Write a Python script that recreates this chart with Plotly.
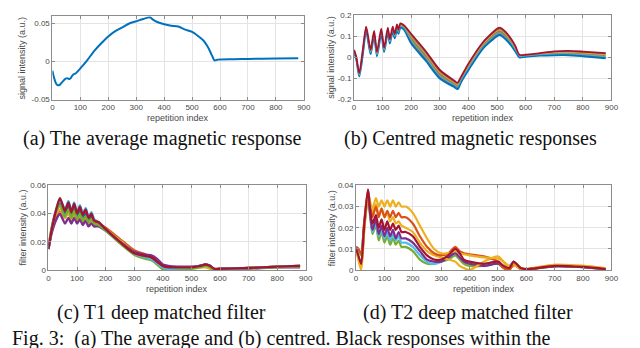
import plotly.graph_objects as go

W, H = 640, 348

def px(x):
    return x / W

def py(y):
    return 1 - y / H

# ---------------- data ----------------
x_ticks = [0, 100, 200, 300, 400, 500, 600, 700, 800, 900]

# (a) average magnetic response
xa = [0, 5, 10, 15, 20, 25, 30, 35, 40, 45, 50, 55, 60, 65, 70, 75, 80, 85, 90, 100,
      125, 150, 175, 200, 225, 250, 275, 300, 325, 350, 360, 375, 400, 425, 450, 475,
      500, 520, 540, 555, 565, 575, 580, 590, 650, 700, 800, 880]
ya = [-0.012, -0.020, -0.026, -0.030, -0.031, -0.031, -0.029, -0.027, -0.025, -0.023,
      -0.022, -0.022, -0.023, -0.022, -0.019, -0.017, -0.016, -0.015, -0.013, -0.009,
      0.002, 0.014, 0.024, 0.033, 0.040, 0.045, 0.050, 0.053, 0.056, 0.058, 0.055,
      0.052, 0.049, 0.047, 0.046, 0.042, 0.039, 0.034, 0.028, 0.020, 0.013, 0.005,
      0.0015, 0.0025, 0.003, 0.0035, 0.004, 0.0045]
ya_ticks = [-0.05, 0, 0.05]
ya_text = ["-0.05", "0", "0.05"]

# (b) centred magnetic responses (band of responses)
xb = [0, 8, 18, 30, 42, 50, 58, 70, 80, 95, 105, 118, 125, 135, 142, 150, 155, 162,
      175, 200, 250, 300, 350, 362, 375, 400, 450, 500, 510, 530, 550, 565, 578, 600,
      650, 700, 750, 800, 880]
b_upper = [0.035, 0.0, -0.075, 0.03, 0.145, 0.09, 0.035, 0.125, 0.025, 0.135, 0.045,
           0.14, 0.085, 0.145, 0.11, 0.155, 0.13, 0.16, 0.15, 0.11, 0.03, -0.06, -0.11,
           -0.12, -0.09, -0.03, 0.07, 0.135, 0.14, 0.12, 0.085, 0.05, 0.012, 0.012,
           0.02, 0.028, 0.03, 0.027, 0.02]
b_mid_a = [0.032, -0.003, -0.08, 0.023, 0.14, 0.083, 0.028, 0.118, 0.018, 0.128, 0.038,
           0.133, 0.078, 0.138, 0.103, 0.148, 0.123, 0.153, 0.143, 0.095, 0.015, -0.073,
           -0.12, -0.13, -0.098, -0.04, 0.06, 0.124, 0.128, 0.108, 0.075, 0.04, 0.008,
           0.009, 0.016, 0.022, 0.023, 0.02, 0.012]
b_mid_b = [0.028, -0.007, -0.085, 0.017, 0.135, 0.077, 0.022, 0.112, 0.012, 0.122, 0.032,
           0.127, 0.072, 0.132, 0.097, 0.142, 0.117, 0.147, 0.137, 0.08, 0.0, -0.087,
           -0.13, -0.14, -0.107, -0.05, 0.05, 0.112, 0.116, 0.096, 0.065, 0.032, 0.004,
           0.006, 0.012, 0.016, 0.017, 0.013, 0.004]
b_lower = [0.025, -0.01, -0.09, 0.01, 0.13, 0.07, 0.015, 0.105, 0.005, 0.115, 0.025,
           0.12, 0.065, 0.125, 0.09, 0.135, 0.11, 0.14, 0.13, 0.065, -0.015, -0.1, -0.14,
           -0.15, -0.115, -0.06, 0.04, 0.1, 0.105, 0.085, 0.055, 0.025, 0.0, 0.003,
           0.008, 0.01, 0.01, 0.005, -0.005]
yb_ticks = [-0.2, -0.1, 0, 0.1, 0.2]
yb_text = ["-0.2", "-0.1", "0", "0.1", "0.2"]

# (c) T1 deep matched filters
xc = [0, 10, 20, 30, 40, 50, 58, 70, 80, 90, 100, 110, 120, 130, 140, 150, 160, 175,
      200, 250, 300, 340, 360, 380, 400, 420, 450, 500, 530, 550, 565, 580, 600, 700,
      800, 880]
c_blue = [0.015, 0.027, 0.036, 0.043, 0.047, 0.043, 0.040, 0.045, 0.039, 0.044, 0.038,
          0.042, 0.037, 0.040, 0.035, 0.038, 0.034, 0.033, 0.029, 0.020, 0.012, 0.009,
          0.008, 0.005, 0.002, 0.001, 0.0015, 0.002, 0.003, 0.004, 0.003, 0.0005, 0.001,
          0.0015, 0.0025, 0.003]
c_orange = [0.017, 0.028, 0.036, 0.040, 0.042, 0.040, 0.037, 0.041, 0.036, 0.040, 0.036,
            0.039, 0.035, 0.038, 0.034, 0.036, 0.034, 0.033, 0.030, 0.022, 0.014, 0.011,
            0.009, 0.006, 0.003, 0.002, 0.002, 0.002, 0.003, 0.0035, 0.002, 0.0005,
            0.001, 0.0015, 0.0025, 0.003]
c_yellow = [0.017, 0.029, 0.037, 0.041, 0.043, 0.040, 0.037, 0.041, 0.036, 0.040, 0.035,
            0.038, 0.034, 0.037, 0.033, 0.035, 0.032, 0.032, 0.029, 0.021, 0.013, 0.010,
            0.008, 0.005, 0.002, 0.001, 0.0015, 0.0015, 0.002, 0.002, 0.001, 0.0,
            0.0008, 0.0015, 0.0025, 0.003]
c_purple = [0.015, 0.025, 0.032, 0.037, 0.040, 0.036, 0.033, 0.037, 0.033, 0.037, 0.033,
            0.036, 0.032, 0.035, 0.031, 0.033, 0.031, 0.031, 0.028, 0.020, 0.013, 0.011,
            0.0105, 0.008, 0.004, 0.003, 0.0025, 0.0025, 0.003, 0.004, 0.003, 0.0005,
            0.0008, 0.0012, 0.002, 0.002]
c_green = [0.016, 0.028, 0.038, 0.043, 0.046, 0.041, 0.038, 0.043, 0.037, 0.042, 0.036,
           0.040, 0.035, 0.038, 0.034, 0.036, 0.033, 0.032, 0.028, 0.019, 0.011, 0.008,
           0.007, 0.004, 0.0005, 0.0, 0.0005, 0.001, 0.002, 0.003, 0.002, 0.0, 0.0008,
           0.0012, 0.002, 0.0025]
c_cyan = [0.015, 0.027, 0.037, 0.045, 0.050, 0.046, 0.043, 0.049, 0.042, 0.048, 0.041,
          0.046, 0.040, 0.044, 0.038, 0.041, 0.036, 0.034, 0.029, 0.020, 0.012, 0.009,
          0.008, 0.005, 0.002, 0.001, 0.0015, 0.002, 0.003, 0.004, 0.003, 0.0005, 0.001,
          0.0015, 0.0025, 0.003]
c_red = [0.015, 0.027, 0.037, 0.045, 0.051, 0.046, 0.042, 0.048, 0.041, 0.047, 0.040,
         0.045, 0.039, 0.043, 0.037, 0.040, 0.035, 0.034, 0.029, 0.020, 0.012, 0.010,
         0.009, 0.006, 0.003, 0.002, 0.002, 0.002, 0.003, 0.004, 0.003, 0.001, 0.001,
         0.0015, 0.0025, 0.003]
yc_ticks = [0, 0.02, 0.04, 0.06]
yc_text = ["0", "0.02", "0.04", "0.06"]

# (d) T2 deep matched filters
xd = [0, 8, 18, 28, 42, 50, 58, 70, 80, 90, 100, 110, 120, 130, 140, 150, 160, 175,
      200, 225, 250, 275, 300, 325, 350, 365, 380, 400, 450, 500, 520, 540, 555, 565,
      580, 600, 700, 800, 880]
d_green = [0.011, 0.010, 0.007, 0.020, 0.033, 0.025, 0.017, 0.021, 0.014, 0.018, 0.013,
           0.016, 0.012, 0.015, 0.012, 0.014, 0.011, 0.011, 0.009, 0.005, 0.003, 0.003,
           0.004, 0.005, 0.007, 0.005, 0.003, 0.002, 0.002, 0.003, 0.001, 0.001, 0.003,
           0.002, 0.0005, 0.0003, 0.0018, 0.0014, 0.0005]
d_cyan = [0.011, 0.010, 0.008, 0.021, 0.034, 0.026, 0.018, 0.022, 0.016, 0.019, 0.015,
          0.018, 0.014, 0.017, 0.014, 0.016, 0.013, 0.013, 0.011, 0.007, 0.004, 0.003,
          0.004, 0.006, 0.008, 0.006, 0.004, 0.003, 0.003, 0.004, 0.002, 0.002, 0.004,
          0.003, 0.001, 0.0005, 0.0018, 0.0014, 0.0005]
d_purple = [0.010, 0.006, 0.002, 0.019, 0.037, 0.026, 0.019, 0.024, 0.017, 0.021, 0.016,
            0.020, 0.016, 0.019, 0.015, 0.018, 0.015, 0.015, 0.013, 0.009, 0.005, 0.004,
            0.004, 0.006, 0.008, 0.006, 0.004, 0.003, 0.002, 0.003, 0.0015, 0.0005,
            0.003, 0.002, 0.0005, 0.0003, 0.0018, 0.0014, 0.0005]
d_yellow2 = [0.010, 0.005, 0.0, 0.017, 0.035, 0.031, 0.027, 0.031, 0.026, 0.029, 0.025,
             0.027, 0.023, 0.025, 0.022, 0.023, 0.021, 0.020, 0.018, 0.013, 0.009, 0.007,
             0.006, 0.005, 0.004, 0.002, 0.001, 0.0, 0.004, 0.0065, 0.004, 0.0005, 0.002,
             0.002, 0.0005, 0.0005, 0.0025, 0.002, 0.0008]
d_orange = [0.011, 0.010, 0.008, 0.022, 0.038, 0.030, 0.025, 0.030, 0.025, 0.029, 0.025,
            0.028, 0.025, 0.028, 0.025, 0.027, 0.025, 0.025, 0.022, 0.016, 0.011, 0.008,
            0.007, 0.008, 0.011, 0.009, 0.008, 0.0075, 0.0065, 0.004, 0.001, 0.0, 0.003,
            0.003, 0.001, 0.0005, 0.002, 0.0015, 0.0005]
d_yellow = [0.010, 0.006, 0.001, 0.018, 0.036, 0.032, 0.029, 0.034, 0.030, 0.033, 0.030,
            0.033, 0.030, 0.033, 0.030, 0.032, 0.030, 0.030, 0.027, 0.021, 0.015, 0.010,
            0.008, 0.008, 0.009, 0.008, 0.0075, 0.007, 0.006, 0.0055, 0.004, 0.002,
            0.003, 0.003, 0.001, 0.0005, 0.0025, 0.002, 0.0008]
d_red = [0.010, 0.007, 0.003, 0.020, 0.038, 0.028, 0.022, 0.026, 0.020, 0.024, 0.019,
         0.023, 0.019, 0.022, 0.019, 0.021, 0.018, 0.018, 0.016, 0.011, 0.007, 0.005,
         0.005, 0.007, 0.010, 0.008, 0.005, 0.004, 0.003, 0.004, 0.002, 0.001, 0.004,
         0.003, 0.001, 0.0005, 0.002, 0.0015, 0.0005]
yd_ticks = [0, 0.01, 0.02, 0.03, 0.04]
yd_text = ["0", "0.01", "0.02", "0.03", "0.04"]

captions = ["(a) The average magnetic response", "(b) Centred magnetic responses",
            "(c) T1 deep matched filter", "(d) T2 deep matched filter"]
fig_caption = "Fig. 3:  (a) The average and (b) centred. Black responses within the"

# ---------------- colours ----------------
C = dict(blue="#0072BD", orange="#D95319", yellow="#EDB120", purple="#7E2F8E",
         green="#77AC30", cyan="#4DBEEE", red="#A2142F")

fig = go.Figure()

def line(x, y, color, width, ax, **kw):
    fig.add_trace(go.Scatter(x=x, y=y, mode="lines", xaxis="x" + ax, yaxis="y" + ax,
                             line=dict(color=color, width=width, shape="spline",
                                       smoothing=0.7),
                             showlegend=False, hoverinfo="skip", **kw))

# (a)
line(xa, ya, C["blue"], 2.0, "")

# (b) band fill + edge lines
line(xb, b_lower, "rgba(0,0,0,0)", 0, "2")
fig.add_trace(go.Scatter(x=xb, y=b_upper, mode="lines", xaxis="x2", yaxis="y2",
                         line=dict(width=0, shape="spline", smoothing=0.7),
                         fill="tonexty", fillcolor="rgb(150,126,86)",
                         showlegend=False, hoverinfo="skip"))
line(xb, b_lower, C["blue"], 2.0, "2")
line(xb, b_mid_b, C["cyan"], 0.8, "2")
line(xb, b_mid_a, C["yellow"], 0.8, "2")
line(xb, b_upper, C["red"], 1.8, "2")

# (c)
for ser, col in [(c_blue, "blue"), (c_orange, "orange"), (c_yellow, "yellow"),
                 (c_purple, "purple"), (c_green, "green"), (c_cyan, "cyan"),
                 (c_red, "red")]:
    line(xc, ser, C[col], 2.4, "3")

# (d)
for ser, col in [(d_green, "green"), (d_cyan, "cyan"), (d_purple, "purple"),
                 (d_yellow2, "yellow"), (d_orange, "orange"), (d_yellow, "yellow"),
                 (d_red, "red")]:
    line(xd, ser, C[col], 2.2, "4")

# ---------------- axes ----------------
axcol = "#8c8c8c"
common = dict(showline=True, linecolor=axcol, linewidth=1, mirror="ticks",
              ticks="inside", ticklen=3, tickcolor=axcol, tickwidth=1,
              showgrid=True, gridcolor="#e4e4e4", gridwidth=1, zeroline=False,
              tickfont=dict(family="Liberation Sans, Arial", size=8, color="#4a4a4a"))

boxes = {  # left, right, top, bottom in px
    "": (43, 298, 4, 90),
    "2": (349, 610, 3, 90),
    "3": (39, 300, 178, 265),
    "4": (351, 610, 178, 265),
}
yspec = {
    "": ([-0.05, 0.06], ya_ticks, ya_text),
    "2": ([-0.2, 0.2], yb_ticks, yb_text),
    "3": ([0, 0.06], yc_ticks, yc_text),
    "4": ([0, 0.04], yd_ticks, yd_text),
}
layout_axes = {}
for k, (l, r, t, b) in boxes.items():
    rng, tv, tt = yspec[k]
    layout_axes["xaxis" + k] = dict(common, domain=[px(l), px(r)], range=[0, 900],
                                    tickvals=x_ticks, anchor="y" + k)
    layout_axes["yaxis" + k] = dict(common, domain=[py(b), py(t)], range=rng,
                                    tickvals=tv, ticktext=tt, anchor="x" + k)

ann = []
tfont = dict(family="Liberation Sans, Arial", size=9, color="#4a4a4a")
ytitles = {"": ("signal intensity (a.u.)", 12), "2": ("signal intensity (a.u.)", 326),
           "3": ("filter intensity (a.u.)", 13), "4": ("filter intensity (a.u.)", 326)}
for k, (l, r, t, b) in boxes.items():
    ann.append(dict(text="repetition index", x=px((l + r) / 2), y=py(b + 19),
                    xref="paper", yref="paper", showarrow=False, font=tfont,
                    xanchor="center", yanchor="middle"))
    txt, xx = ytitles[k]
    ann.append(dict(text=txt, x=px(xx), y=py((t + b) / 2), xref="paper", yref="paper",
                    showarrow=False, font=tfont, textangle=-90,
                    xanchor="center", yanchor="middle"))

cfont = dict(family="Liberation Serif, Times New Roman", size=20, color="#111111")
for txt, cx, cy in [(captions[0], 155, 130), (captions[1], 467, 130),
                    (captions[2], 154, 308), (captions[3], 465, 308)]:
    ann.append(dict(text=txt, x=px(cx), y=py(cy), xref="paper", yref="paper",
                    showarrow=False, font=cfont, xanchor="center", yanchor="middle"))
ann.append(dict(text=fig_caption, x=px(0), y=py(349), xref="paper", yref="paper",
                showarrow=False, font=cfont, xanchor="left", yanchor="bottom"))

fig.update_layout(width=W, height=H, margin=dict(l=0, r=0, t=0, b=0),
                  paper_bgcolor="white", plot_bgcolor="white",
                  showlegend=False, annotations=ann, **layout_axes)

fig.write_html("out.html")
